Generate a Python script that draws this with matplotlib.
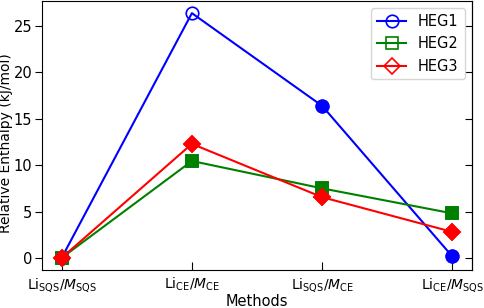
import numpy as np
import matplotlib
matplotlib.use("Agg")
from matplotlib import pyplot as plt

methods = [r'Li$_{\rm SQS}$/$M_{\rm SQS}$', r'Li$_{\rm CE}$/$M_{\rm CE}$',
           r'Li$_{\rm SQS}$/$M_{\rm CE}$', r'Li$_{\rm CE}$/$M_{\rm SQS}$']
heg1 = [0.0, 26.4, 16.4, 0.15]
heg2 = [0.0, 10.45, 7.5, 4.8]
heg3 = [0.0, 12.3, 6.55, 2.8]
names = ['HEG1', 'HEG2', 'HEG3']
# which points are drawn with filled markers
filled1 = [True, False, True, True]
filled2 = [True, True, True, True]
filled3 = [True, True, True, True]

fig = plt.figure(figsize=(4.84, 3.08), dpi=100)
ax = fig.add_axes([0.087, 0.123, 0.888, 0.874])
x = np.arange(len(methods))

series = [(heg1, filled1, 'blue', 'o', 9), (heg2, filled2, 'green', 's', 8.5),
          (heg3, filled3, 'red', 'D', 8.5)]
for (vals, filled, c, m, ms), name in zip(series, names):
    ax.plot(x, vals, color=c, marker=m, markersize=ms, markerfacecolor='none',
            markeredgewidth=1.2, lw=1.5, label=name)
    f = np.array(filled)
    ax.plot(x[f], np.array(vals)[f], ls='none', marker=m, markersize=ms,
            color=c, markeredgewidth=1.2)

ax.set_xticks(x)
ax.set_xticklabels(methods, fontsize=10)
ax.set_yticks([0, 5, 10, 15, 20, 25])
ax.tick_params(axis='y', labelsize=10.5, direction='out', length=5, pad=2)
ax.tick_params(axis='x', direction='in', length=6, pad=4)
sec = ax.secondary_yaxis('right')
sec.set_yticks([0, 5, 10, 15, 20, 25])
sec.tick_params(direction='in', length=5, labelright=False)
ax.set_xlabel('Methods', fontsize=10.5, labelpad=0)
ax.set_ylabel('Relative Enthalpy (kJ/mol)', fontsize=10)
ax.yaxis.set_label_coords(-0.068, 0.47)
ax.legend(loc='upper right', fontsize=10.5)

fig.savefig('out.png', dpi=100)
